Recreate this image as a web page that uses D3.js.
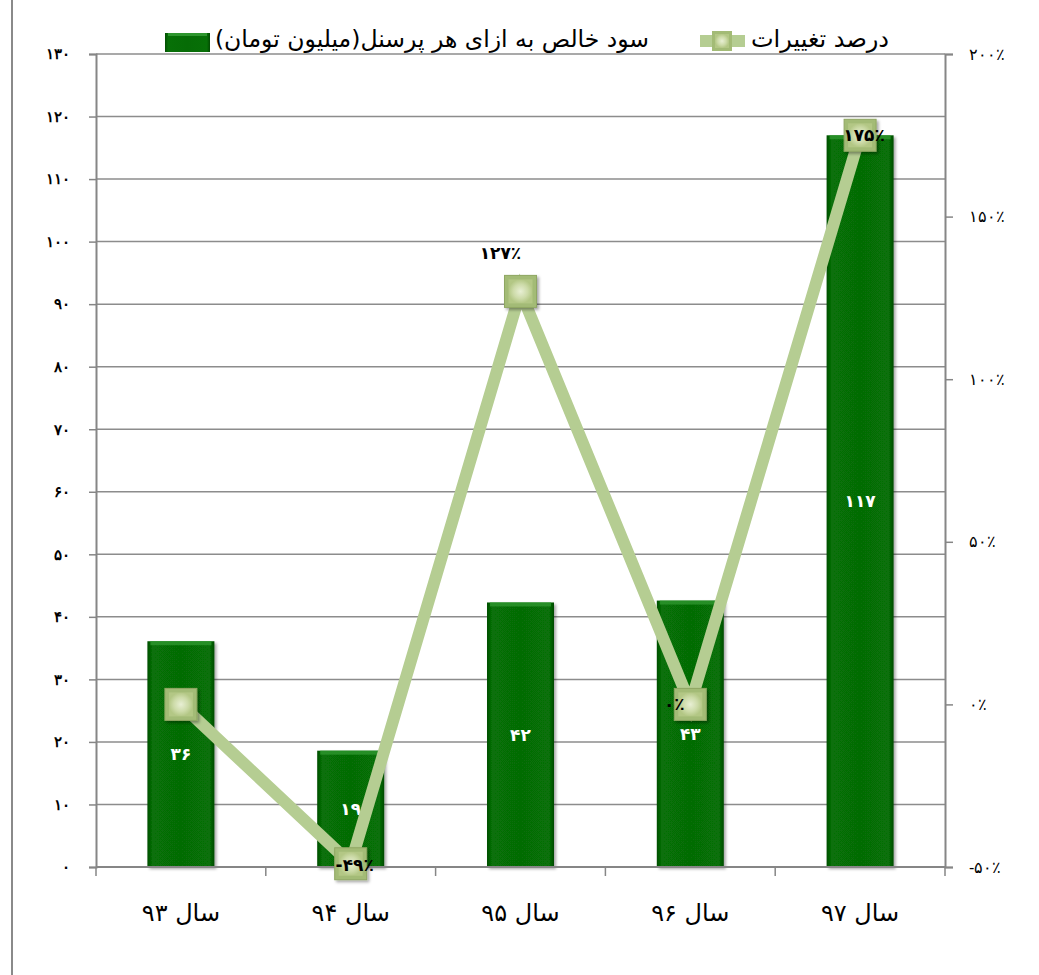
<!DOCTYPE html>
<html><head><meta charset="utf-8">
<script src="https://cdn.jsdelivr.net/npm/d3@7"></script>
<style>body{margin:0;background:#fff;}svg{display:block;font-family:"DejaVu Sans",sans-serif;}</style>
</head><body><svg id="c" width="1039" height="975"></svg>
<script>
const categories = ["سال ۹۳","سال ۹۴","سال ۹۵","سال ۹۶","سال ۹۷"];
const profitValues = [36.1, 18.6, 42.3, 42.6, 117.0];
const changeValues = [0, -49, 127, 0, 175];
const leftTicks = [0,10,20,30,40,50,60,70,80,90,100,110,120,130];
const rightTicks = [-50,0,50,100,150,200];
const seriesNames = ["سود خالص به ازای هر پرسنل(میلیون تومان)","درصد تغییرات"];

const fa = s => String(s).replace(/\d/g, d => "۰۱۲۳۴۵۶۷۸۹"[d]);
const pct = v => (v < 0 ? "-" : "") + fa(Math.abs(v)) + "٪";

const svg = d3.select("#c");
const L = 96, R = 945, T = 54, B = 867;
const x = d3.scaleBand().domain(categories).range([L, R]).paddingInner(0).paddingOuter(0);
const y = d3.scaleLinear().domain([0,130]).range([B, T]);
const y2 = d3.scaleLinear().domain([-50,200]).range([B, T]);

const defs = svg.append("defs");
const bg = defs.append("linearGradient").attr("id","barG").attr("x1","0").attr("x2","1").attr("y1","0").attr("y2","0");
[[0,"#024e02"],[0.07,"#077007"],[0.5,"#066c06"],[0.93,"#077007"],[1,"#024a02"]].forEach(s=>bg.append("stop").attr("offset",s[0]).attr("stop-color",s[1]));
const mg = defs.append("radialGradient").attr("id","mkG");
[[0,"#e8efd4"],[0.6,"#cddba9"],[1,"#b3c785"]].forEach(s=>mg.append("stop").attr("offset",s[0]).attr("stop-color",s[1]));
const sh = defs.append("filter").attr("id","sh").attr("x","-30%").attr("y","-30%").attr("width","160%").attr("height","160%");
sh.append("feDropShadow").attr("dx",2).attr("dy",2).attr("stdDeviation",1.5).attr("flood-color","#000").attr("flood-opacity",0.35);

// left border line
svg.append("line").attr("x1",12).attr("x2",12).attr("y1",0).attr("y2",975).attr("stroke","#8a8a8a").attr("stroke-width",2);

// gridlines
svg.append("g").selectAll("line").data(leftTicks.filter(d=>d>0)).join("line")
  .attr("x1",L).attr("x2",R).attr("y1",d=>y(d)).attr("y2",d=>y(d))
  .attr("stroke","#8c8c8c").attr("stroke-width",1.5);

// left axis
const ga = svg.append("g").attr("transform",`translate(${L},0)`)
  .call(d3.axisLeft(y).tickValues(leftTicks).tickSize(7).tickPadding(19).tickFormat(fa));
ga.select(".domain").attr("stroke","#868686").attr("stroke-width",2);
ga.selectAll(".tick line").attr("stroke","#868686").attr("stroke-width",1.5);
ga.selectAll("text").attr("font-size",15).attr("font-weight","bold").attr("fill","#000");

// right axis
const gr = svg.append("g").attr("transform",`translate(${R},0)`)
  .call(d3.axisRight(y2).tickValues(rightTicks).tickSize(8).tickPadding(16).tickFormat(pct));
gr.select(".domain").attr("stroke","#868686").attr("stroke-width",2);
gr.selectAll(".tick line").attr("stroke","#868686").attr("stroke-width",1.5);
gr.selectAll("text").attr("font-size",16).attr("fill","#000").attr("direction","ltr");

// bars
const bw = 67;
svg.append("g").selectAll("rect").data(profitValues).join("rect")
  .attr("x",(d,i)=>x(categories[i])+x.bandwidth()/2-bw/2).attr("width",bw)
  .attr("y",d=>y(d)).attr("height",d=>B-y(d))
  .attr("fill","url(#barG)").attr("filter","url(#sh)");
svg.append("g").selectAll("rect").data(profitValues).join("rect")
  .attr("x",(d,i)=>x(categories[i])+x.bandwidth()/2-bw/2+3).attr("width",bw-6)
  .attr("y",d=>y(d)).attr("height",4).attr("fill","#2e962e").attr("opacity",0.8);

// x axis
svg.append("line").attr("x1",L).attr("x2",R).attr("y1",B).attr("y2",B).attr("stroke","#868686").attr("stroke-width",2);
const bounds = categories.map(c=>x(c)).concat([R]);
svg.append("g").selectAll("line").data(bounds).join("line")
  .attr("x1",d=>d).attr("x2",d=>d).attr("y1",B).attr("y2",B+9).attr("stroke","#868686").attr("stroke-width",1.5);
svg.append("g").selectAll("text").data(categories).join("text")
  .attr("x",d=>x(d)+x.bandwidth()/2).attr("y",921).attr("text-anchor","middle")
  .attr("font-size",24).attr("direction","rtl").text(d=>d);

// bar labels
svg.append("g").selectAll("text").data(profitValues).join("text")
  .attr("x",(d,i)=>x(categories[i])+x.bandwidth()/2).attr("y",d=>(y(d)+B)/2+6)
  .attr("text-anchor","middle").attr("fill","#fff").attr("font-size",17).attr("font-weight","bold")
  .text(d=>fa(Math.round(d)));

// line
const cx = i => x(categories[i]) + x.bandwidth()/2;
svg.append("path").datum(changeValues)
  .attr("d", d3.line().x((d,i)=>cx(i)).y(d=>y2(d)))
  .attr("fill","none").attr("stroke","#b5cd92").attr("stroke-width",12).attr("stroke-linejoin","miter");

// markers
const ms = 32;
const mk = svg.append("g").selectAll("g").data(changeValues).join("g")
  .attr("transform",(d,i)=>`translate(${cx(i)},${y2(d)})`);
mk.append("rect").attr("x",-ms/2).attr("y",-ms/2).attr("width",ms).attr("height",ms)
  .attr("fill","#a3bb76").attr("stroke","#8fa763").attr("stroke-width",1).attr("filter","url(#sh)");
mk.append("rect").attr("x",-ms/2+4).attr("y",-ms/2+4).attr("width",ms-8).attr("height",ms-8).attr("fill","url(#mkG)");

// line labels
const lblOff = [[0,0],[4,7],[-20,-32],[-16,6],[4,6]];
svg.append("g").selectAll("text").data(changeValues).join("text")
  .filter((d,i)=>i>0)
  .attr("x",(d,i)=>cx(i+1)+lblOff[i+1][0]).attr("y",(d,i)=>y2(d)+lblOff[i+1][1])
  .attr("text-anchor","middle").attr("direction","ltr").attr("font-size",17).attr("font-weight","bold")
  .text(d=>pct(d));

// legend
const lg = svg.append("g");
lg.append("rect").attr("x",165).attr("y",33).attr("width",45).attr("height",19).attr("fill","url(#barG)");
lg.append("rect").attr("x",168).attr("y",33).attr("width",39).attr("height",3).attr("fill","#2e962e");
lg.append("text").attr("x",432).attr("y",47).attr("text-anchor","middle").attr("direction","rtl").attr("font-size",23.5).text(seriesNames[0]);
lg.append("line").attr("x1",700).attr("x2",745).attr("y1",41).attr("y2",41).attr("stroke","#b5cd92").attr("stroke-width",12);
lg.append("rect").attr("x",712).attr("y",31).attr("width",20).attr("height",20).attr("fill","#a3bb76");
lg.append("rect").attr("x",715).attr("y",34).attr("width",14).attr("height",14).attr("fill","url(#mkG)");
lg.append("text").attr("x",820).attr("y",47).attr("text-anchor","middle").attr("direction","rtl").attr("font-size",24).text(seriesNames[1]);
</script></body></html>
